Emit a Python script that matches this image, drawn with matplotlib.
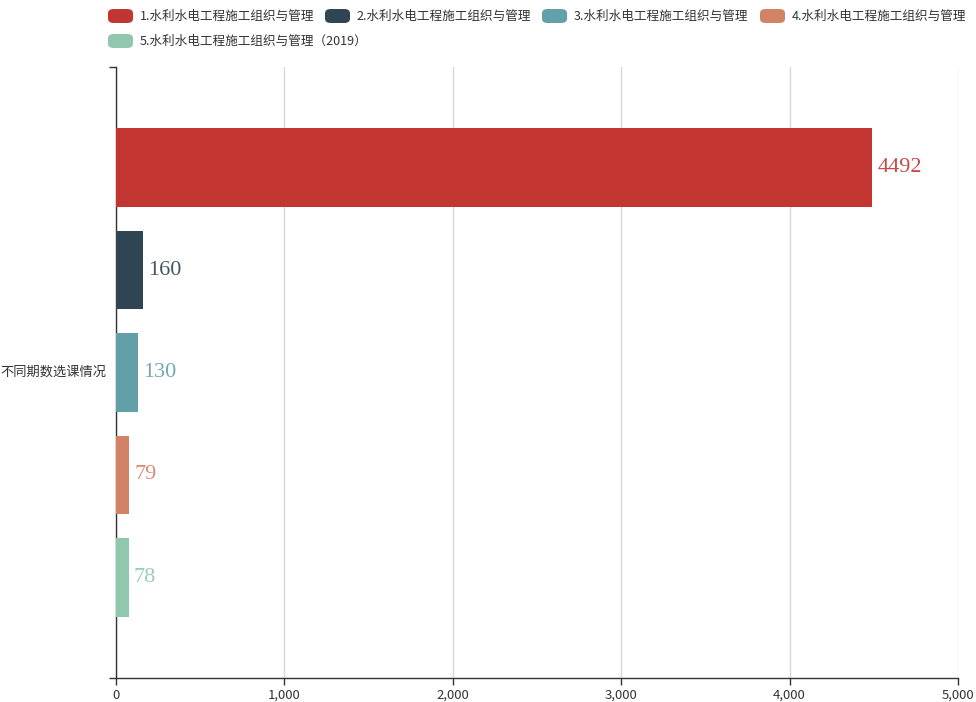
import matplotlib
matplotlib.use('Agg')
import numpy as np
from matplotlib import pyplot as plt
from matplotlib.patches import FancyBboxPatch
from matplotlib.ticker import FuncFormatter

plt.rcParams['font.family'] = ['Noto Sans CJK SC', 'DejaVu Sans']

# data
series_names = [
    '1.水利水电工程施工组织与管理',
    '2.水利水电工程施工组织与管理',
    '3.水利水电工程施工组织与管理',
    '4.水利水电工程施工组织与管理',
    '5.水利水电工程施工组织与管理（2019）',
]
values = [4492, 160, 130, 79, 78]
category = '不同期数选课情况'
colors = ['#c23531', '#2f4554', '#61a0a8', '#d48265', '#91c7ae']

fig = plt.figure(figsize=(9.76, 7.02), dpi=100)
W, H = 976, 702
left, right, top, bottom = 116, 958, 67, 678
ax = fig.add_axes([left / W, 1 - bottom / H, (right - left) / W, (bottom - top) / H])

# bar layout like echarts: 20% category gap, 30% bar gap
n = len(values)
bw = 0.8 / (n + (n - 1) * 0.3)
step = bw * 1.3
offsets = -0.4 + bw / 2 + step * np.arange(n)

for i, (v, c) in enumerate(zip(values, colors)):
    ax.barh(offsets[i], v, height=bw, color=c, zorder=3)
    ax.annotate(str(v), (v, offsets[i]), xytext=(3.5, 0), textcoords='offset points',
                va='center', ha='left', color=c, fontsize=16, alpha=0.9,
                family='Liberation Serif')

ax.set_ylim(0.5, -0.5)
ax.set_xlim(0, 5000)
ax.set_xticks(np.arange(0, 5001, 1000))
ax.xaxis.set_major_formatter(FuncFormatter(lambda x, p: f'{int(x):,}'))
ax.grid(axis='x', color='#d9d9d9', linewidth=1, zorder=0)

ax.set_yticks([-0.5, 0.5])
ax.set_yticklabels([])
ax.tick_params(axis='y', length=5, color='#333333', width=1)
ax.tick_params(axis='x', length=5, color='#333333', width=1, labelsize=9.5,
               labelcolor='#333333', pad=3)
ax.text(-0.011, 0.0, category, transform=ax.get_yaxis_transform(),
        ha='right', va='center', fontsize=9.5, color='#333333')

for s in ['top', 'right']:
    ax.spines[s].set_visible(False)
for s in ['left', 'bottom']:
    ax.spines[s].set_color('#333333')
    ax.spines[s].set_linewidth(1)

# legend, drawn by hand to get echarts rounded handles
leg_pos = [(108, 16), (325, 16), (542, 16), (760, 16), (108, 41)]
for (lx, ly), name, c in zip(leg_pos, series_names, colors):
    fig.patches.append(FancyBboxPatch(
        (lx / W, 1 - (ly + 7) / H), 25 / W, 14 / H,
        boxstyle='round,pad=0,rounding_size=0.006',
        transform=fig.transFigure, facecolor=c, edgecolor='none'))
    fig.text((lx + 32) / W, 1 - ly / H, name, ha='left', va='center',
             fontsize=9.1, color='#333333')

fig.savefig('out.png', dpi=100)
